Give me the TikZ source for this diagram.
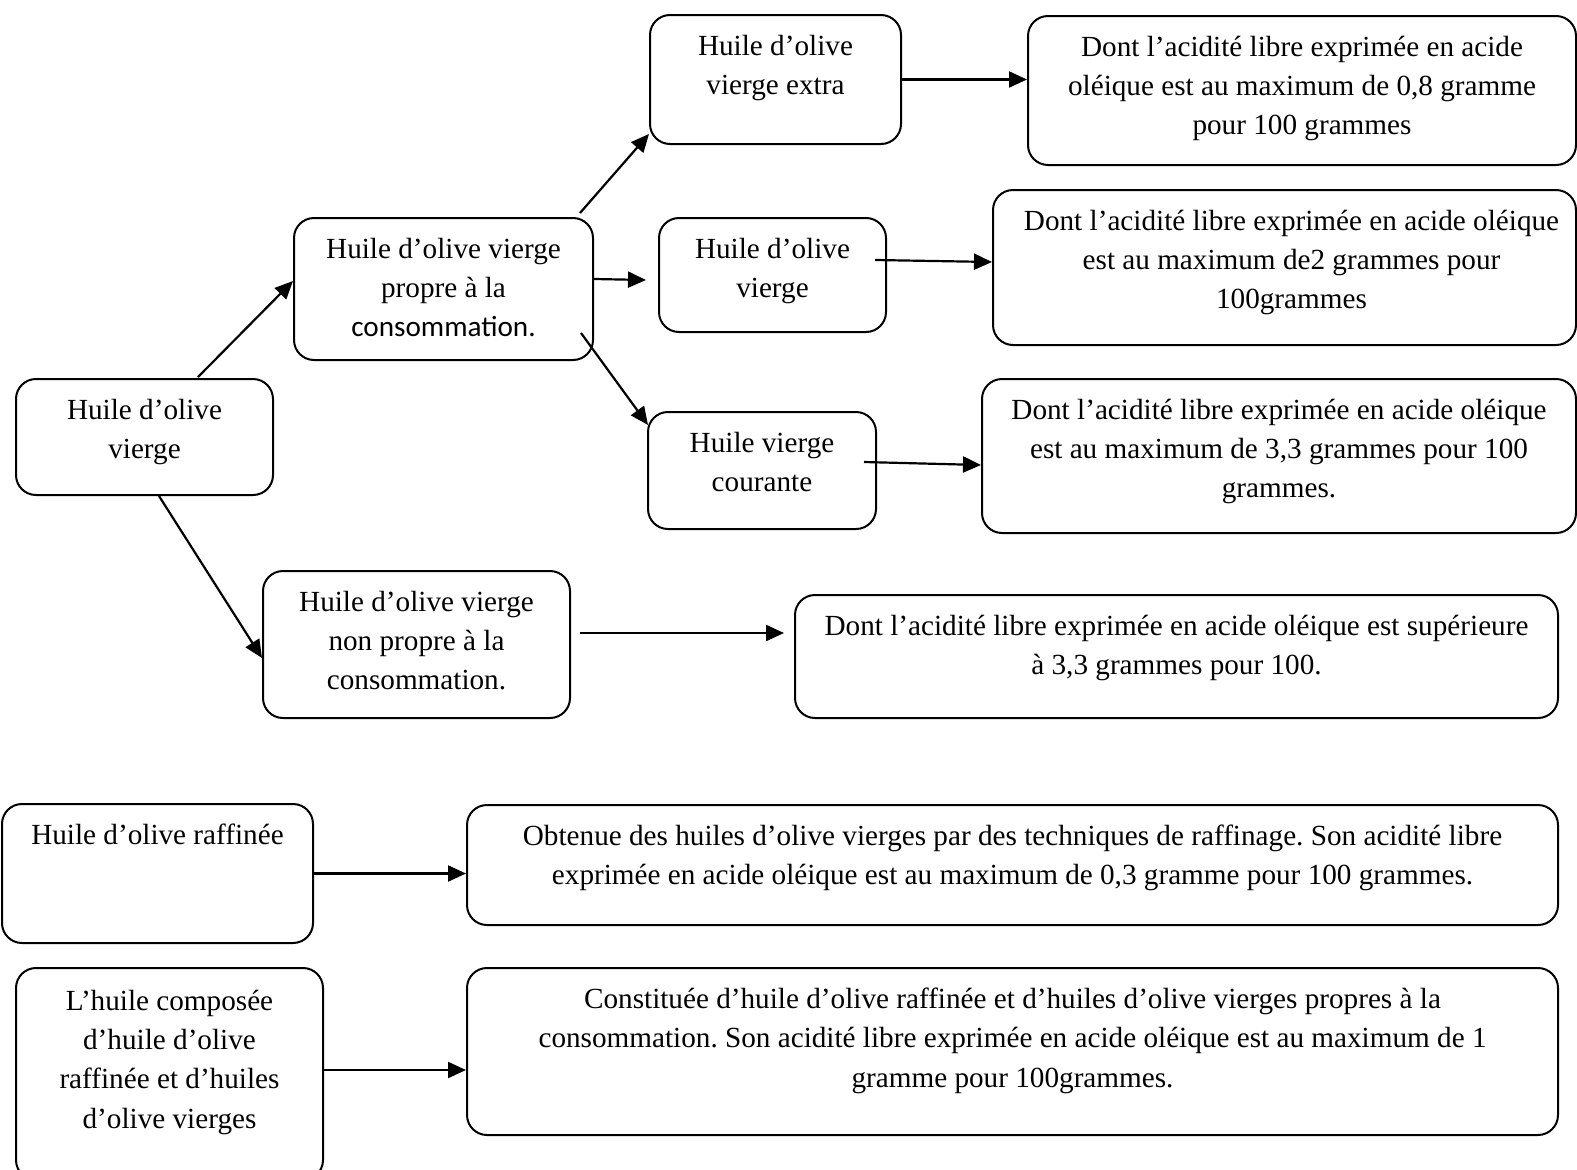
\documentclass[tikz,border=0pt]{standalone}
\usepackage{fontspec}
\setmainfont{Liberation Serif}
\newfontfamily\carlito{Carlito}
\usetikzlibrary{arrows.meta}
\frenchspacing
\newcommand{\fs}{\fontsize{29.2}{39.2}\selectfont}
\tikzset{
  box/.style={draw, line width=2pt, rounded corners=20pt, inner sep=0pt, anchor=north west},
  lbl/.style={anchor=north, inner sep=0pt, align=center, font=\fs},
  arr/.style={-{Triangle[length=18pt,width=16pt]}, line width=2.2pt},
}
\begin{document}
\begin{tikzpicture}[x=1pt,y=-1pt]
\useasboundingbox (0,0) rectangle (1577,1170);
% boxes
\node[box, minimum width=257pt, minimum height=116pt] (b1) at (15,378) {};
\node[box, minimum width=299pt, minimum height=142pt] (b2) at (293,217) {};
\node[box, minimum width=251pt, minimum height=129pt] (b3) at (649,14) {};
\node[box, minimum width=548pt, minimum height=149pt] (b4) at (1027,15) {};
\node[box, minimum width=227pt, minimum height=114pt] (b5) at (658,217) {};
\node[box, minimum width=583pt, minimum height=155pt] (b6) at (992,189) {};
\node[box, minimum width=228pt, minimum height=117pt] (b7) at (647,411) {};
\node[box, minimum width=594pt, minimum height=154pt] (b8) at (981,378) {};
\node[box, minimum width=307pt, minimum height=147pt] (b9) at (262,570) {};
\node[box, minimum width=763pt, minimum height=123pt] (b10) at (794,594) {};
\node[box, minimum width=311pt, minimum height=139pt] (b11) at (1,803) {};
\node[box, minimum width=1091pt, minimum height=120pt] (b12) at (466,804) {};
\node[box, minimum width=307pt, minimum height=212pt] (b13) at (15,967) {};
\node[box, minimum width=1091pt, minimum height=167pt] (b14) at (466,967) {};
% texts
\node[lbl] (t1) at ([yshift=-21pt]b1.north) {Huile d’olive\\vierge};
\node[lbl] (t2) at ([yshift=-21pt]b2.north) {Huile d’olive vierge\\propre à la\\{\carlito consommation.}};
\node[lbl] (t3) at ([yshift=-21pt]b3.north) {Huile d’olive\\vierge extra};
\node[lbl] (t4) at ([yshift=-21pt]b4.north) {Dont l’acidité libre exprimée en acide\\oléique est au maximum de 0,8 gramme\\pour 100 grammes};
\node[lbl] (t5) at ([yshift=-21pt]b5.north) {Huile d’olive\\vierge};
\node[lbl] (t6) at ([xshift=7pt,yshift=-21pt]b6.north) {Dont l’acidité libre exprimée en acide oléique\\est au maximum de2 grammes pour\\100grammes};
\node[lbl] (t7) at ([yshift=-21pt]b7.north) {Huile vierge\\courante};
\node[lbl] (t8) at ([yshift=-21pt]b8.north) {Dont l’acidité libre exprimée en acide oléique\\est au maximum de 3,3 grammes pour 100\\grammes.};
\node[lbl] (t9) at ([yshift=-21pt]b9.north) {Huile d’olive vierge\\non propre à la\\consommation.};
\node[lbl] (t10) at ([yshift=-21pt]b10.north) {Dont l’acidité libre exprimée en acide oléique est supérieure\\à 3,3 grammes pour 100.};
\node[lbl] (t11) at ([yshift=-21pt]b11.north) {Huile d’olive raffinée};
\node[lbl] (t12) at ([yshift=-21pt]b12.north) {Obtenue des huiles d’olive vierges par des techniques de raffinage. Son acidité libre\\exprimée en acide oléique est au maximum de 0,3 gramme pour 100 grammes.};
\node[lbl] (t13) at ([yshift=-23pt]b13.north) {L’huile composée\\d’huile d’olive\\raffinée et d’huiles\\d’olive vierges};
\node[lbl] (t14) at ([yshift=-21pt]b14.north) {Constituée d’huile d’olive raffinée et d’huiles d’olive vierges propres à la\\consommation. Son acidité libre exprimée en acide oléique est au maximum de 1\\gramme pour 100grammes.};
% connectors
\coordinate (s9) at (580,633);
\draw[arr] ([xshift=53.5pt,yshift=1pt]b1.north) -- ([yshift=8pt]b2.west);
\draw[arr] ([xshift=14.5pt]b1.south) -- ([yshift=-13.5pt]b9.west);
\draw[arr] ([xshift=-14pt,yshift=4pt]b2.north east) -- ([yshift=11pt]b3.south west);
\draw[arr] ([yshift=10pt]b2.east) -- ([xshift=-12pt,yshift=-5pt]b5.west);
\draw[arr] ([xshift=-13pt,yshift=28pt]b2.south east) -- ([xshift=1pt,yshift=-14pt]b7.north west);
\draw[arr] (b3.east) -- (b3.east -| b4.west);
\draw[arr] ([xshift=-12pt,yshift=15pt]b5.east) -- ([yshift=5.5pt]b6.west);
\draw[arr] ([xshift=-13pt,yshift=8.5pt]b7.east) -- ([yshift=-9pt]b8.west);
\draw[arr] (s9) -- ([xshift=-10pt]s9 -| b10.west);
\draw[arr] (b11.east) -- (b11.east -| b12.west);
\draw[arr] ([yshift=4pt]b13.east) -- ([yshift=4pt]b13.east -| b14.west);
\end{tikzpicture}
\end{document}
